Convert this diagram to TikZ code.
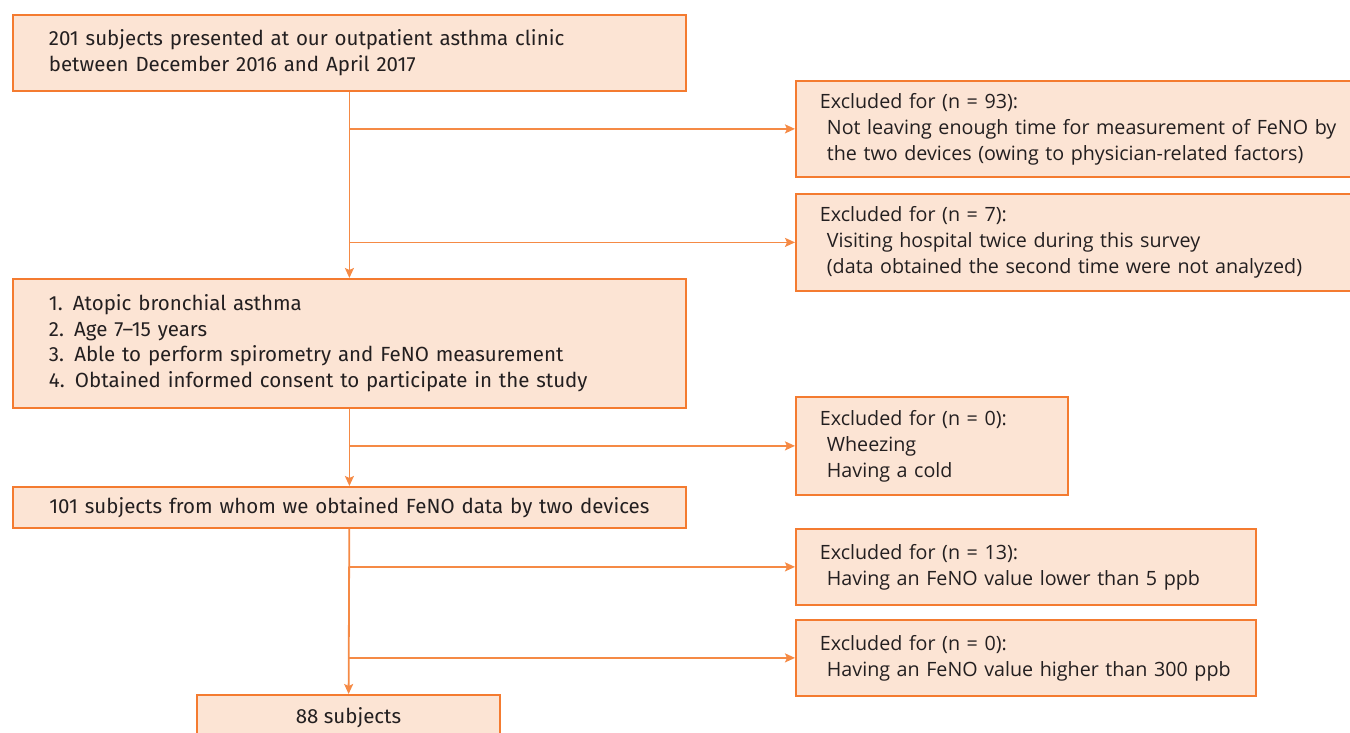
\documentclass[tikz,border=0pt]{standalone}
\usepackage{fontspec}
\setmainfont{Open Sans}
\newfontfamily\narrowfont{Fira Sans}
\usetikzlibrary{
  arrows.meta,
  positioning,
}
\definecolor{boxfill}{HTML}{FCE4D4}
\definecolor{boxline}{HTML}{F47B30}
\definecolor{flowline}{HTML}{F58A45}
\definecolor{inktext}{HTML}{231F20}
\tikzset{
  mainbox/.style={draw=boxline, fill=boxfill, line width=1.8pt, text=inktext,
    inner xsep=36pt, inner ysep=0pt, align=left,
    font=\narrowfont\fontsize{20.5}{25.5}\selectfont},
  exclbox/.style={draw=boxline, fill=boxfill, line width=1.8pt, text=inktext,
    inner xsep=24pt, inner ysep=0pt, align=left, anchor=north west,
    font=\fontsize{19.7}{26}\selectfont},
  flow/.style={draw=flowline, line width=1.8pt,
    -{Stealth[length=10pt, width=9pt, inset=2pt]}},
}
\newcommand{\ind}{\hspace*{7pt}}

\begin{document}
\begin{tikzpicture}[x=1pt, y=-1pt]
      \useasboundingbox (0,0) rectangle (1350,733);
      % left column
      \node [mainbox, anchor=north west, minimum width=673pt, minimum height=76pt,
        text width=601pt] (start) at (12,14)
        {201 subjects presented at our outpatient asthma clinic\\
         between December 2016 and April 2017};
      \node [mainbox, anchor=north west, minimum width=673pt, minimum height=129pt,
        text width=601pt] (crit) at (12,278)
        {1.\enspace Atopic bronchial asthma\\
         2.\enspace Age 7\textendash15 years\\
         3.\enspace Able to perform spirometry and FeNO measurement\\
         4.\enspace Obtained informed consent to participate in the study};
      \node [mainbox, anchor=north west, minimum width=673pt, minimum height=41pt,
        text width=601pt, align=center] (data) at (12,486)
        {101 subjects from whom we obtained FeNO data by two devices};
      \node [mainbox, anchor=north, minimum width=303pt, minimum height=46pt,
        align=center] (final) at (348.5,694) {88 subjects};
      % exclusions
      \node [exclbox, minimum width=600pt, minimum height=96pt, text width=552pt]
        (exA) at (795,80)
        {Excluded for (n = 93):\\
         \ind Not leaving enough time for measurement of FeNO by\\
         \ind the two devices (owing to physician-related factors)};
      \node [exclbox, minimum width=600pt, minimum height=97pt, text width=552pt]
        (exB) at (795,193)
        {Excluded for (n = 7):\\
         \ind Visiting hospital twice during this survey\\
         \ind (data obtained the second time were not analyzed)};
      \node [exclbox, minimum width=272pt, minimum height=98pt, text width=224pt]
        (exC) at (795,396)
        {Excluded for (n = 0):\\
         \ind Wheezing\\
         \ind Having a cold};
      \node [exclbox, minimum width=460pt, minimum height=76pt, text width=412pt]
        (exD) at (795,528)
        {Excluded for (n = 13):\\
         \ind Having an FeNO value lower than 5 ppb};
      \node [exclbox, minimum width=460pt, minimum height=76pt, text width=412pt]
        (exE) at (795,619)
        {Excluded for (n = 0):\\
         \ind Having an FeNO value higher than 300 ppb};
      % connectors
      \draw [flow] (start) -- (crit);
      \draw [flow] (crit) -- (data);
      \draw [flow] (data) -- (final);
      \draw [flow] (start.south |- exA.west) -- (exA.west);
      \draw [flow] (start.south |- exB.west) -- (exB.west);
      \draw [flow] (crit.south |- exC.west) -- (exC.west);
      \draw [flow] (data.south |- exD.west) -- (exD.west);
      \draw [flow] (data.south |- exE.west) -- (exE.west);
    \end{tikzpicture}
\end{document}
